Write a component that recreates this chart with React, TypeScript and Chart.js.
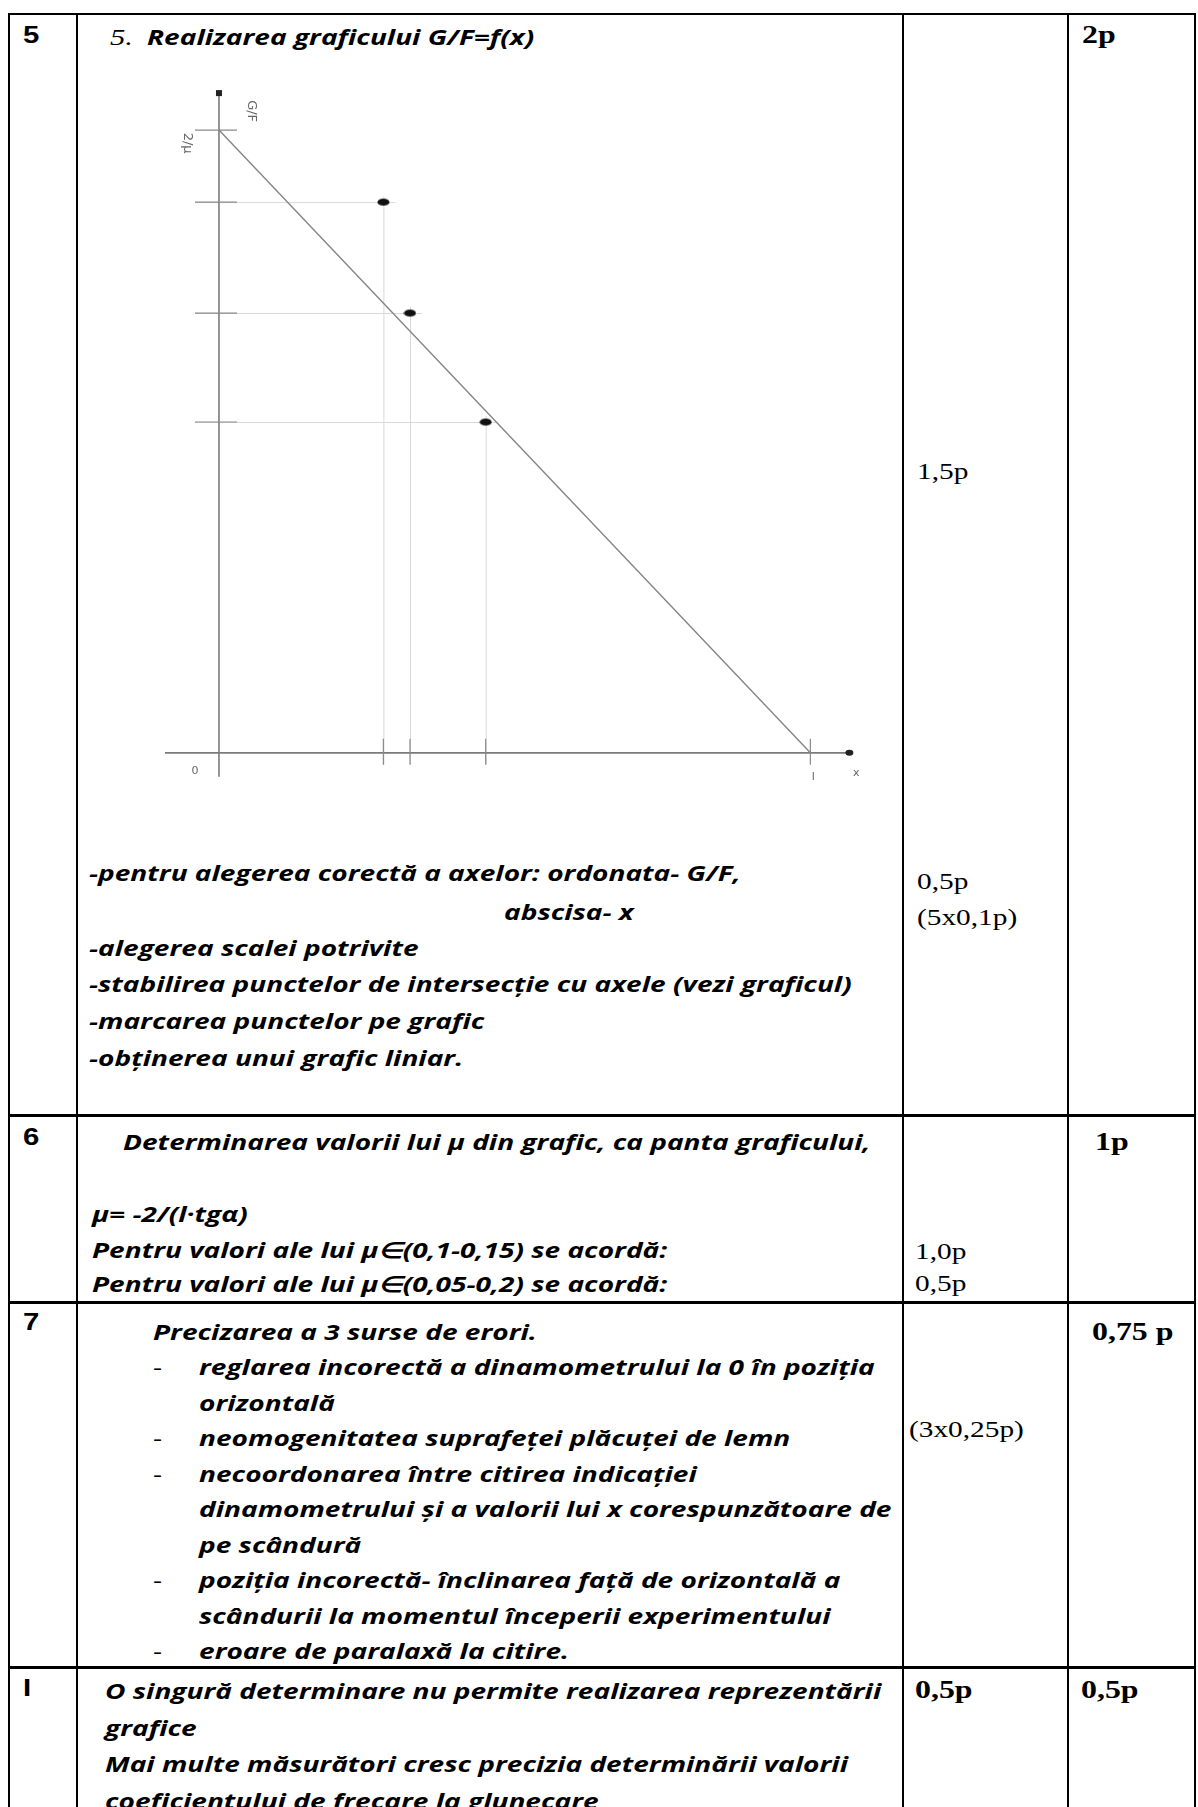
import React, { useEffect, useRef } from "react";
import { Chart, registerables } from "chart.js";

Chart.register(...registerables);

// ---------- chart data (G/F as a function of x) ----------
const xMeasured = [0.278, 0.323, 0.451]; // x of the measured points (fraction of l)
const gfMeasured = [14.15, 11.3, 8.5]; // measured G/F values
const gfIntercept = 16; // 2/μ  (intercept with the ordinate)
const lengthL = 1; // l (intercept with the abscissa)
const axisTexts = ["0", "x", "l", "2/μ", "G/F"];

// axis ranges (layout of the drawing area)
const X_MIN = -0.10649;
const X_MAX = 1.14143;
const Y_MIN = -1.3144;
const Y_MAX = 17.39;

// ---------- table texts ----------
const row5Lines = [
  "-pentru alegerea corectă a axelor: ordonata- G/F,",
  "abscisa- x",
  "-alegerea scalei potrivite",
  "-stabilirea punctelor de intersecție cu axele (vezi graficul)",
  "-marcarea punctelor pe grafic",
  "-obținerea unui grafic liniar.",
];
const row7Items = [
  "reglarea incorectă a dinamometrului la 0 în poziția",
  "orizontală",
  "neomogenitatea suprafeței plăcuței de lemn",
  "necoordonarea între citirea indicației",
  "dinamometrului și a valorii lui x corespunzătoare de",
  "pe scândură",
  "poziția incorectă- înclinarea față de orizontală a",
  "scândurii la momentul începerii experimentului",
  "eroare de paralaxă la citire.",
];
const row7Bullets = [true, false, true, true, false, false, true, false, true];
const row8Lines = [
  "O singură determinare nu permite realizarea reprezentării",
  "grafice",
  "Mai multe măsurători cresc precizia determinării valorii",
  "coeficientului de frecare la glunecare",
];

const TEXT_FONT = '"Open Sans", "Noto Sans", sans-serif';
const SERIF = '"Liberation Serif", "Times New Roman", serif';
const SANS = '"Liberation Sans", Arial, sans-serif';
const TEXT_SIZE = 22;

// the page is stretched horizontally: derive the stretch from two measured line widths
let SX_CACHE = 0;
function getSX(): number {
  if (SX_CACHE) return SX_CACHE;
  try {
    const c = document.createElement("canvas").getContext("2d") as CanvasRenderingContext2D;
    c.font = `italic 700 ${TEXT_SIZE}px ${TEXT_FONT}`;
    const m1 = c.measureText("Pentru valori ale lui μ∈(0,1-0,1").width;
    const m2 = c.measureText("Determinarea valorii lui μ di").width;
    const s = (405 / m1 + 376 / m2) / 2;
    SX_CACHE = Math.min(1.6, Math.max(1.0, s));
  } catch (e) {
    SX_CACHE = 1.27;
  }
  return SX_CACHE;
}

function makeDot(): HTMLCanvasElement {
  const c = document.createElement("canvas");
  c.width = 13;
  c.height = 9;
  const ctx = c.getContext("2d") as CanvasRenderingContext2D;
  ctx.fillStyle = "#111";
  ctx.beginPath();
  ctx.ellipse(6.5, 4.5, 6, 3.6, 0, 0, Math.PI * 2);
  ctx.fill();
  return c;
}

const GraphCanvas: React.FC = () => {
  const ref = useRef<HTMLCanvasElement | null>(null);
  useEffect(() => {
    if (!ref.current) return;
    const guidePlugin = {
      id: "axesGuides",
      beforeDatasetsDraw(chart: any) {
        const ctx = chart.ctx as CanvasRenderingContext2D;
        const xs = chart.scales.x;
        const ys = chart.scales.y;
        const px = (v: number) => xs.getPixelForValue(v);
        const py = (v: number) => ys.getPixelForValue(v);
        const ox = px(0);
        const oy = py(0);
        ctx.save();
        // light guide lines
        ctx.strokeStyle = "#d9d9d9";
        ctx.lineWidth = 1;
        xMeasured.forEach((xv, i) => {
          const yv = gfMeasured[i];
          ctx.beginPath();
          ctx.moveTo(ox - 24, py(yv) + 0.5);
          ctx.lineTo(px(xv) + 12, py(yv) + 0.5);
          ctx.stroke();
          ctx.beginPath();
          ctx.moveTo(px(xv) + 0.5, py(yv) - 6);
          ctx.lineTo(px(xv) + 0.5, oy + 12);
          ctx.stroke();
        });
        // axes
        ctx.strokeStyle = "#7a7a7a";
        ctx.lineWidth = 1.6;
        ctx.beginPath();
        ctx.moveTo(ox, oy + 24);
        ctx.lineTo(ox, py(gfIntercept) - 36);
        ctx.stroke();
        ctx.beginPath();
        ctx.moveTo(ox - 54, oy);
        ctx.lineTo(px(lengthL) + 38, oy);
        ctx.stroke();
        // tick marks
        ctx.strokeStyle = "#8a8a8a";
        ctx.lineWidth = 1.2;
        [gfIntercept, ...gfMeasured].forEach((yv) => {
          ctx.beginPath();
          ctx.moveTo(ox - 24, py(yv));
          ctx.lineTo(ox + 18, py(yv));
          ctx.stroke();
        });
        [...xMeasured, lengthL].forEach((xv) => {
          ctx.beginPath();
          ctx.moveTo(px(xv), oy - 14);
          ctx.lineTo(px(xv), oy + 12);
          ctx.stroke();
        });
        // arrow-head dots
        ctx.fillStyle = "#222";
        ctx.fillRect(ox - 3, py(gfIntercept) - 40, 6, 6);
        ctx.beginPath();
        ctx.ellipse(px(lengthL) + 39, oy, 4, 3, 0, 0, Math.PI * 2);
        ctx.fill();
        ctx.restore();
      },
      afterDatasetsDraw(chart: any) {
        const ctx = chart.ctx as CanvasRenderingContext2D;
        const xs = chart.scales.x;
        const ys = chart.scales.y;
        const ox = xs.getPixelForValue(0);
        const oy = ys.getPixelForValue(0);
        ctx.save();
        ctx.fillStyle = "#666";
        ctx.font = '11px "DejaVu Sans", sans-serif';
        ctx.textAlign = "center";
        ctx.textBaseline = "middle";
        ctx.fillText(axisTexts[0], ox - 24, oy + 18);
        ctx.fillText(axisTexts[1], xs.getPixelForValue(lengthL) + 46, oy + 20);
        ctx.fillText(axisTexts[2], xs.getPixelForValue(lengthL) + 3, oy + 24);
        const iy = ys.getPixelForValue(gfIntercept);
        ctx.font = '13px "DejaVu Sans", sans-serif';
        ctx.save();
        ctx.translate(ox - 32, iy + 13);
        ctx.rotate(Math.PI / 2);
        ctx.fillText(axisTexts[3], 0, 0);
        ctx.restore();
        ctx.save();
        ctx.translate(ox + 32, iy - 19);
        ctx.rotate(Math.PI / 2);
        ctx.fillText(axisTexts[4], 0, 0);
        ctx.restore();
        ctx.restore();
      },
    };
    const dot = makeDot();
    const chart = new Chart(ref.current, {
      type: "scatter",
      data: {
        datasets: [
          {
            type: "line",
            data: [
              { x: 0, y: gfIntercept },
              { x: lengthL, y: 0 },
            ],
            borderColor: "#858585",
            borderWidth: 1.4,
            pointRadius: 0,
            fill: false,
          } as any,
          {
            data: xMeasured.map((x, i) => ({ x, y: gfMeasured[i] })),
            pointStyle: dot as any,
            pointRadius: 5,
            backgroundColor: "#111",
          },
        ],
      },
      options: {
        animation: false,
        responsive: false,
        devicePixelRatio: 1,
        layout: { padding: 0 },
        plugins: { legend: { display: false }, tooltip: { enabled: false } },
        scales: {
          x: { type: "linear", display: false, min: X_MIN, max: X_MAX },
          y: { type: "linear", display: false, min: Y_MIN, max: Y_MAX },
        },
      },
      plugins: [guidePlugin],
    });
    return () => chart.destroy();
  }, []);
  return (
    <canvas
      ref={ref}
      width={750}
      height={740}
      style={{ position: "absolute", left: 150, top: 70, width: 750, height: 740 }}
    />
  );
};

const T: React.FC<{
  x: number;
  cy: number;
  lh?: number;
  font?: string;
  size?: number;
  weight?: number | string;
  italic?: boolean;
  children: React.ReactNode;
}> = ({ x, cy, lh = 36, font = TEXT_FONT, size = TEXT_SIZE, weight = 700, italic = true, children }) => (
  <div
    style={{
      position: "absolute",
      left: x,
      top: cy - lh / 2,
      lineHeight: `${lh}px`,
      height: lh,
      fontFamily: font,
      fontSize: size,
      fontWeight: weight as any,
      fontStyle: italic ? "italic" : "normal",
      whiteSpace: "nowrap",
      color: "#000",
      transform: `scaleX(${getSX()})`,
      transformOrigin: "left center",
    }}
  >
    {children}
  </div>
);

const HLine: React.FC<{ y: number; w?: number }> = ({ y, w = 2 }) => (
  <div style={{ position: "absolute", left: 8, top: y - w / 2, width: 1188, height: w, background: "#000" }} />
);
const VLine: React.FC<{ x: number; y1: number; y2: number; w?: number }> = ({ x, y1, y2, w = 2 }) => (
  <div style={{ position: "absolute", left: x - w / 2, top: y1, width: w, height: y2 - y1, background: "#000" }} />
);

const App: React.FC = () => {
  const num = { font: SANS, size: 23, weight: 700, italic: false };
  const sc = { font: SERIF, size: 23, weight: 400, italic: false };
  const scb = { font: SERIF, size: 25, weight: 700, italic: false };
  return (
    <div style={{ position: "absolute", left: 0, top: 0, width: 1198, height: 1807, overflow: "hidden", background: "#fff" }}>
      {/* table grid */}
      <HLine y={14} />
      <HLine y={1115} w={3} />
      <HLine y={1302} w={3} />
      <HLine y={1667} w={3} />
      <VLine x={9} y1={13} y2={1807} />
      <VLine x={77} y1={13} y2={1807} />
      <VLine x={903} y1={13} y2={1807} />
      <VLine x={1068} y1={13} y2={1807} />
      <VLine x={1195} y1={13} y2={1807} />

      {/* row 5 */}
      <T x={23} cy={35} {...num}>5</T>
      <T x={110} cy={36}>
        <span style={{ fontFamily: SERIF, fontWeight: 400, fontSize: 24 }}>5.</span>
        <span style={{ marginLeft: 11 }}>Realizarea graficului G/F=f(x)</span>
      </T>
      <T x={1082} cy={35} {...scb}>2p</T>
      <GraphCanvas />
      <T x={917} cy={472} {...sc}>1,5p</T>
      <T x={89} cy={872}>{row5Lines[0]}</T>
      <T x={504} cy={911}>{row5Lines[1]}</T>
      <T x={89} cy={947}>{row5Lines[2]}</T>
      <T x={89} cy={983}>{row5Lines[3]}</T>
      <T x={89} cy={1020}>{row5Lines[4]}</T>
      <T x={89} cy={1057}>{row5Lines[5]}</T>
      <T x={917} cy={882} {...sc}>0,5p</T>
      <T x={917} cy={918} {...sc}>(5x0,1p)</T>

      {/* row 6 */}
      <T x={23} cy={1137} {...num}>6</T>
      <T x={123} cy={1141}>Determinarea valorii lui μ din grafic, ca panta graficului,</T>
      <T x={1095} cy={1142} {...scb}>1p</T>
      <T x={92} cy={1213}>μ= -2/(l·tgα)</T>
      <T x={92} cy={1249}>Pentru valori ale lui μ∈(0,1-0,15) se acordă:</T>
      <T x={92} cy={1283}>Pentru valori ale lui μ∈(0,05-0,2) se acordă:</T>
      <T x={915} cy={1252} {...sc}>1,0p</T>
      <T x={915} cy={1284} {...sc}>0,5p</T>

      {/* row 7 */}
      <T x={23} cy={1322} {...num}>7</T>
      <T x={153} cy={1331}>Precizarea a 3 surse de erori.</T>
      {row7Items.map((s, i) => (
        <React.Fragment key={i}>
          {row7Bullets[i] && (
            <T x={153} cy={1366 + i * 35.5} weight={400} italic={false}>
              -
            </T>
          )}
          <T x={199} cy={1366 + i * 35.5}>{s}</T>
        </React.Fragment>
      ))}
      <T x={1092} cy={1332} {...scb}>0,75 p</T>
      <T x={909} cy={1430} {...sc}>(3x0,25p)</T>

      {/* row 8 */}
      <T x={23} cy={1688} {...num}>I</T>
      {row8Lines.map((s, i) => (
        <T key={i} x={105} cy={1690 + i * 36.7}>
          {s}
        </T>
      ))}
      <T x={915} cy={1690} {...scb}>0,5p</T>
      <T x={1081} cy={1690} {...scb}>0,5p</T>
    </div>
  );
};

export default App;
